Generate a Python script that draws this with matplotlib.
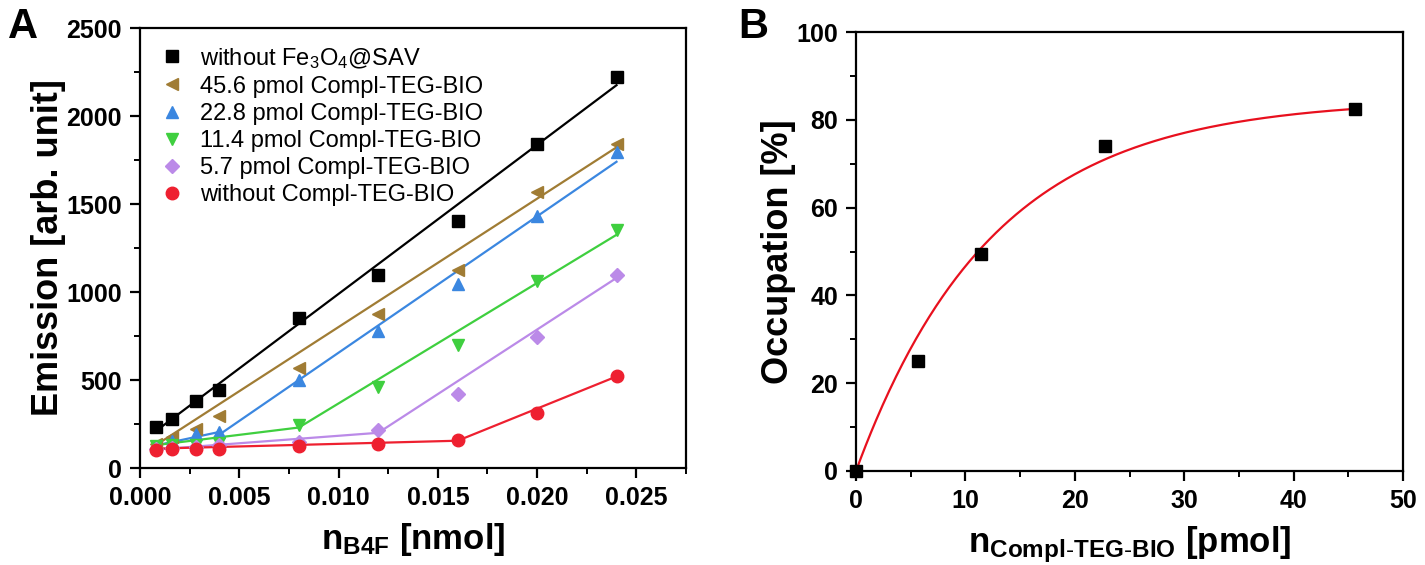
import numpy as np
import matplotlib
matplotlib.use("Agg")
import matplotlib.pyplot as plt
from matplotlib import font_manager
from matplotlib.ticker import MultipleLocator

# ---------------- data ----------------
n_b4f = [0.0008, 0.0016, 0.0028, 0.004, 0.008, 0.012, 0.016, 0.020, 0.024]

labels_A = ["without Fe$_3$O$_4$@SAV",
            "45.6 pmol Compl-TEG-BIO",
            "22.8 pmol Compl-TEG-BIO",
            "11.4 pmol Compl-TEG-BIO",
            "5.7 pmol Compl-TEG-BIO",
            "without Compl-TEG-BIO"]

em_no_sav = [234, 281, 378, 445, 850, 1097, 1406, 1840, 2223]
em_456 = [137, 177, 224, 296, 566, 876, 1125, 1566, 1840]
em_228 = [125, 154, 196, 207, 500, 781, 1047, 1429, 1794]
em_114 = [125, 130, 130, 140, 243, 462, 700, 1065, 1354]
em_57 = [108, 112, 120, 128, 150, 217, 420, 747, 1097]
em_none = [103, 110, 110, 110, 125, 135, 158, 315, 524]

# fitted lines (breakpoints)
fit_x_no_sav = [0.0008, 0.024]
fit_y_no_sav = [210, 2175]
fit_x_456 = [0.0008, 0.024]
fit_y_456 = [130, 1822]
fit_x_228 = [0.0008, 0.004, 0.004, 0.024]
fit_y_228 = [128, 205, 190, 1740]
fit_x_114 = [0.0008, 0.008, 0.024]
fit_y_114 = [130, 230, 1325]
fit_x_57 = [0.0008, 0.012, 0.024]
fit_y_57 = [105, 200, 1080]
fit_x_none = [0.0008, 0.016, 0.024]
fit_y_none = [110, 155, 520]

n_compl = [0, 5.7, 11.4, 22.8, 45.6]
occupation = [0, 25, 49.5, 74, 82.5]
# saturation fit parameters  y = A (1 - exp(-x / tau))
fit_A = 84.7
fit_tau = 12.5

# ---------------- fonts ----------------
def have(fam):
    try:
        font_manager.findfont(font_manager.FontProperties(family=fam),
                              fallback_to_default=False)
        return True
    except Exception:
        return False

narrow = "Liberation Sans Narrow" if have("Liberation Sans Narrow") else "Liberation Sans"
plt.rcParams['font.family'] = [narrow, 'DejaVu Sans']
plt.rcParams['mathtext.fontset'] = 'custom'
plt.rcParams['mathtext.rm'] = 'Liberation Sans'
plt.rcParams['mathtext.bf'] = narrow + ':bold'
plt.rcParams['mathtext.it'] = 'Liberation Sans:italic'

W, H = 1425, 565
fig = plt.figure(figsize=(W / 100, H / 100), dpi=100)

axA = fig.add_axes([140 / W, 1 - 468 / H, 546 / W, 440 / H])
axB = fig.add_axes([856 / W, 1 - 471 / H, 547 / W, 439 / H])

colors = ["#000000", "#a07c34", "#3b87e0", "#3fcf3f", "#bb8ae8", "#ee2030"]
markers = ["s", "<", "^", "v", "D", "o"]
msizes = [8, 9, 9, 9, 7.5, 9]
series = [em_no_sav, em_456, em_228, em_114, em_57, em_none]
fits = [(fit_x_no_sav, fit_y_no_sav), (fit_x_456, fit_y_456),
        (fit_x_228, fit_y_228), (fit_x_114, fit_y_114),
        (fit_x_57, fit_y_57), (fit_x_none, fit_y_none)]

for ys, (fx, fy), c, m, ms, lab in zip(series, fits, colors, markers, msizes, labels_A):
    axA.plot(fx, fy, color=c, lw=1.6, zorder=2)
    axA.plot(n_b4f, ys, linestyle='none', marker=m, ms=ms, color=c,
             mec=c, label=lab, zorder=3)

axA.set_xlim(0, 0.0275)
axA.set_ylim(0, 2500)
axA.xaxis.set_major_locator(MultipleLocator(0.005))
axA.xaxis.set_minor_locator(MultipleLocator(0.0025))
axA.yaxis.set_major_locator(MultipleLocator(500))
axA.yaxis.set_minor_locator(MultipleLocator(250))
axA.xaxis.set_major_formatter(matplotlib.ticker.FormatStrFormatter('%.3f'))
axA.set_xlabel(r'$\mathbf{n_{B4F}}$ [nmol]', fontsize=25, fontweight='bold', labelpad=8)
axA.set_ylabel('Emission [arb. unit]', fontsize=26, fontweight='bold', labelpad=0)

leg = axA.legend(loc='upper left', frameon=False,
                 prop={'family': 'Liberation Sans', 'size': 17},
                 handletextpad=0.6, labelspacing=0.22, borderaxespad=0.35,
                 handlelength=1.2)

# panel B
xc = np.linspace(0, max(n_compl), 300)
axB.plot(xc, fit_A * (1 - np.exp(-xc / fit_tau)), color='#e8101e', lw=1.6, zorder=2)
axB.plot(n_compl, occupation, linestyle='none', marker='s', ms=8, color='black',
         zorder=3, clip_on=False)
axB.set_xlim(0, 50)
axB.set_ylim(0, 100)
axB.xaxis.set_major_locator(MultipleLocator(10))
axB.xaxis.set_minor_locator(MultipleLocator(5))
axB.yaxis.set_major_locator(MultipleLocator(20))
axB.yaxis.set_minor_locator(MultipleLocator(10))
axB.set_xlabel(r'$\mathbf{n_{Compl\text{-}TEG\text{-}BIO}}$ [pmol]', fontsize=25,
               fontweight='bold', labelpad=8)
axB.set_ylabel('Occupation [%]', fontsize=26, fontweight='bold', labelpad=0)

for ax in (axA, axB):
    for sp in ax.spines.values():
        sp.set_linewidth(1.6)
    ax.tick_params(which='major', direction='out', length=7, width=1.6,
                   labelsize=18, pad=6)
    ax.tick_params(which='minor', direction='out', length=4, width=1.4)
    for t in ax.get_xticklabels() + ax.get_yticklabels():
        t.set_fontweight('bold')

fig.text(8 / W, 1 - 27 / H, 'A', fontsize=30, fontweight='bold',
         family='Liberation Sans', va='center', ha='left')
fig.text(738 / W, 1 - 27 / H, 'B', fontsize=30, fontweight='bold',
         family='Liberation Sans', va='center', ha='left')

fig.savefig('out.png', dpi=100)
